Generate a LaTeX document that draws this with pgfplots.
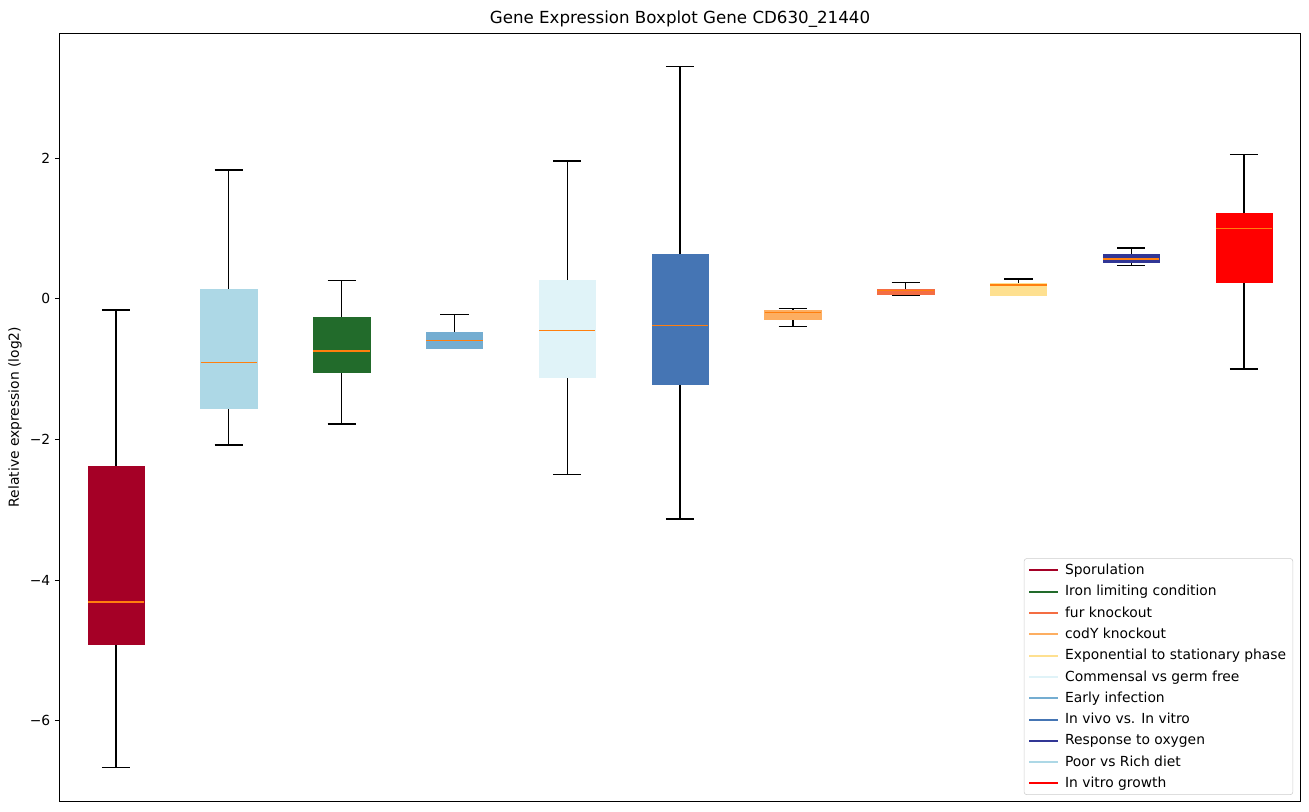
\documentclass[border=0pt]{standalone}
\usepackage{fontspec}
\setmainfont{DejaVu Sans}
\usepackage{pgfplots}
\pgfplotsset{compat=1.18}
\usepgfplotslibrary{statistics}
\definecolor{cSpo}{HTML}{A50026}
\definecolor{cIron}{HTML}{226B2B}
\definecolor{cFur}{HTML}{F46D43}
\definecolor{cCody}{HTML}{FDAE61}
\definecolor{cExp}{HTML}{FEE090}
\definecolor{cCom}{HTML}{E0F3F8}
\definecolor{cEarly}{HTML}{74ADD1}
\definecolor{cVivo}{HTML}{4575B4}
\definecolor{cOxy}{HTML}{313695}
\definecolor{cPoor}{HTML}{ADD8E6}
\definecolor{cGrowth}{HTML}{FF0000}
\definecolor{cMed}{HTML}{FF7F0E}
\newcommand{\leg}[2]{\addlegendimage{legend image code/.code={\path[draw=none,fill=none] (-8pt,0pt) -- (17pt,0pt);\draw[#1, line width=1.5pt] (-8pt,0pt) -- (14pt,0pt);}}\addlegendentry{#2}}
\pgfplotsset{
  bx/.style={forget plot, mark=none,
    boxplot prepared={every box/.style={fill=#1, draw=#1},
      every whisker/.style={black, line width=1pt},
      every median/.style={cMed, line width=1pt}}},
}
\begin{document}
\begin{tikzpicture}[x=1pt,y=1pt]
\useasboundingbox (-44.7pt,-8.25pt) rectangle (937.1pt,600.75pt);
\begin{axis}[
  at={(0,0)}, anchor=south west,
  scale only axis, width=930.7pt, height=576pt,
  xmin=0.5, xmax=11.5, ymin=-7.14, ymax=3.78,
  xtick=\empty,
  ytick={-6,-4,-2,0,2},
  yticklabels={−6,−4,−2,0,2},
  ytick pos=left,
  tick style={black, line width=0.6pt},
  ytick align=outside, major tick length=3.5pt,
  yticklabel style={font=\fontsize{10.4}{12}\selectfont},
  ylabel={Relative expression (log2)},
  ylabel style={font=\fontsize{10.4}{12}\selectfont, at={(axis description cs:0,0.5)}, anchor=center, yshift=33.5pt},
  title={Gene Expression Boxplot Gene CD630\_21440},
  title style={font=\fontsize{12.5}{14}\selectfont, yshift=-5.5pt},
  axis line style={line width=0.6pt},
  boxplot/draw direction=y,
  boxplot/box extend=0.5,
  boxplot/whisker extend=0.25,
  legend cell align=left,
  legend style={at={(axis description cs:1,0)}, anchor=south east, xshift=-5.5pt, yshift=4.5pt,
    font=\fontsize{10.4}{12}\selectfont, draw=black!20, rounded corners=2pt, row sep=2.6pt,
    inner xsep=3pt, inner ysep=2pt},
]
% lower whisker, lower quartile, median, upper quartile, upper whisker
\addplot+[bx=cSpo, boxplot prepared={draw position=1, lower whisker=-6.66, lower quartile=-4.91, median=-4.31, upper quartile=-2.38, upper whisker=-0.16}] coordinates {};
\addplot+[bx=cPoor, boxplot prepared={draw position=2, lower whisker=-2.08, lower quartile=-1.55, median=-0.91, upper quartile=0.135, upper whisker=1.83}] coordinates {};
\addplot+[bx=cIron, boxplot prepared={draw position=3, lower whisker=-1.78, lower quartile=-1.04, median=-0.74, upper quartile=-0.26, upper whisker=0.26}] coordinates {};
\addplot+[bx=cEarly, boxplot prepared={draw position=4, lower whisker=-0.71, lower quartile=-0.70, median=-0.59, upper quartile=-0.47, upper whisker=-0.225}] coordinates {};
\addplot+[bx=cCom, boxplot prepared={draw position=5, lower whisker=-2.50, lower quartile=-1.11, median=-0.45, upper quartile=0.27, upper whisker=1.96}] coordinates {};
\addplot+[bx=cVivo, boxplot prepared={draw position=6, lower whisker=-3.13, lower quartile=-1.22, median=-0.38, upper quartile=0.64, upper whisker=3.30}] coordinates {};
\addplot+[bx=cCody, boxplot prepared={draw position=7, lower whisker=-0.39, lower quartile=-0.29, median=-0.19, upper quartile=-0.156, upper whisker=-0.138}] coordinates {};
\addplot+[bx=cFur, boxplot prepared={draw position=8, lower whisker=0.053, lower quartile=0.065, median=0.12, upper quartile=0.142, upper whisker=0.228}] coordinates {};
\addplot+[bx=cExp, boxplot prepared={draw position=9, lower whisker=0.043, lower quartile=0.048, median=0.195, upper quartile=0.223, upper whisker=0.284}] coordinates {};
\addplot+[bx=cOxy, boxplot prepared={draw position=10, lower whisker=0.47, lower quartile=0.515, median=0.565, upper quartile=0.64, upper whisker=0.725}] coordinates {};
\addplot+[bx=cGrowth, boxplot prepared={draw position=11, lower whisker=-1.00, lower quartile=0.23, median=1.00, upper quartile=1.22, upper whisker=2.05}] coordinates {};
\leg{cSpo}{Sporulation}
\leg{cIron}{Iron limiting condition}
\leg{cFur}{fur knockout}
\leg{cCody}{codY knockout}
\leg{cExp}{Exponential to stationary phase}
\leg{cCom}{Commensal vs germ free}
\leg{cEarly}{Early infection}
\leg{cVivo}{In vivo vs. In vitro}
\leg{cOxy}{Response to oxygen}
\leg{cPoor}{Poor vs Rich diet}
\leg{cGrowth}{In vitro growth}
\end{axis}
\end{tikzpicture}
\end{document}
